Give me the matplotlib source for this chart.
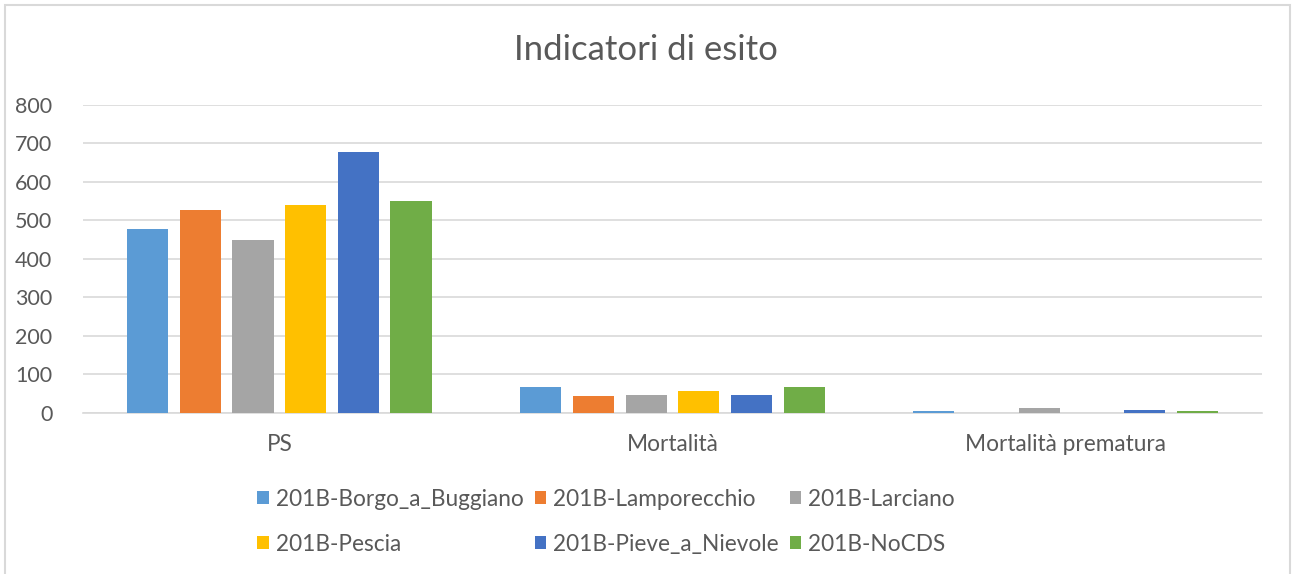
import numpy as np
import matplotlib.pyplot as plt
from matplotlib.patches import Rectangle

plt.rcParams['font.family'] = ['Lato', 'DejaVu Sans']

categorie = ['PS', 'Mortalità', 'Mortalità prematura']
serie = ['201B-Borgo_a_Buggiano', '201B-Lamporecchio', '201B-Larciano',
         '201B-Pescia', '201B-Pieve_a_Nievole', '201B-NoCDS']
colori = ['#5B9BD5', '#ED7D31', '#A5A5A5', '#FFC000', '#4472C4', '#70AD47']

borgo = [478, 67, 4]
lamporecchio = [527, 43, 0]
larciano = [449, 47, 14]
pescia = [540, 56, 0]
pieve = [677, 46, 9]
nocds = [550, 68, 6]
valori = [borgo, lamporecchio, larciano, pescia, pieve, nocds]

grigio = '#595959'

fig = plt.figure(figsize=(12.92, 5.74), dpi=100)
ax = fig.add_axes([0.0642, 0.2805, 0.9126, 0.5366])

x = np.arange(len(categorie))
w = 0.105
passo = 0.134
handles = []
for i, (nome, v, c) in enumerate(zip(serie, valori, colori)):
    b = ax.bar(x + (i - 2.5) * passo, v, width=w, color=c, label=nome, zorder=3)
    handles.append(b)

ax.set_xlim(-0.5, 2.5)
ax.set_ylim(0, 800)
ax.set_yticks(range(0, 801, 100))
ax.set_xticks(x)
ax.set_xticklabels(categorie)
ax.grid(axis='y', color='#D9D9D9', linewidth=1.2, zorder=0)
for s in ['top', 'right', 'left']:
    ax.spines[s].set_visible(False)
ax.spines['bottom'].set_color('#D9D9D9')
ax.spines['bottom'].set_linewidth(1.2)
ax.tick_params(axis='both', length=0, colors=grigio)
ax.tick_params(axis='y', pad=22, labelsize=15.5)
ax.tick_params(axis='x', pad=15, labelsize=16.3)

fig.text(0.5, 0.913, 'Indicatori di esito', ha='center', va='center',
         fontsize=25, color=grigio)

# legenda: matplotlib riempie per colonne, quindi riordino
ordine = [0, 3, 1, 4, 2, 5]
leg = fig.legend([handles[i] for i in ordine], [serie[i] for i in ordine],
                 ncol=3, loc='center', bbox_to_anchor=(0.469, 0.091),
                 frameon=False, fontsize=16.3, handlelength=0.5, handleheight=0.5,
                 handletextpad=0.3, columnspacing=0.5, labelspacing=1.05)
for t in leg.get_texts():
    t.set_color(grigio)

fig.patches.append(Rectangle((5 / 1292, -0.01), 1285 / 1292, 1 - 5 / 574 + 0.01,
                             transform=fig.transFigure, fill=False,
                             edgecolor='#D9D9D9', linewidth=1.5))

fig.savefig('out.png', dpi=100)
